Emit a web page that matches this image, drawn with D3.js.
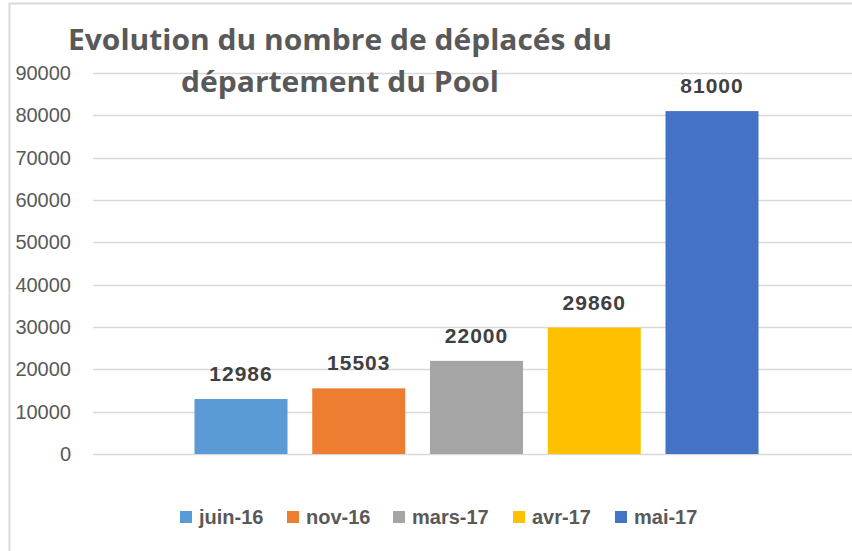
<!DOCTYPE html>
<html>
<head>
<meta charset="utf-8">
<script src="https://cdn.jsdelivr.net/npm/d3@7"></script>
<style>
  body { margin: 0; background: #fff; }
  svg { display: block; }
</style>
</head>
<body>
<div id="chart"></div>
<script>
// Data
const periods = ['juin-16', 'nov-16', 'mars-17', 'avr-17', 'mai-17'];
const displaced = [12986, 15503, 22000, 29860, 81000];
const barColors = ['#5B9BD5', '#ED7D31', '#A5A5A5', '#FFC000', '#4472C4'];
const yTicks = [0, 10000, 20000, 30000, 40000, 50000, 60000, 70000, 80000, 90000];
const titleLines = ['Evolution du nombre de déplacés du', 'département du Pool'];

const W = 852, H = 551;
const svg = d3.select('#chart').append('svg')
    .attr('width', W)
    .attr('height', H);

// chart frame
svg.append('rect')
    .attr('x', 9.5).attr('y', 3.5)
    .attr('width', 900).attr('height', 600)
    .attr('fill', '#fff')
    .attr('stroke', '#d9d9d9')
    .attr('stroke-width', 2);

const plotLeft = 93, plotRight = 860;

const y = d3.scaleLinear()
    .domain([0, 90000])
    .range([454, 73]);

const x = d3.scaleBand()
    .domain(periods)
    .range([plotLeft, plotRight])
    .paddingInner(0.21)
    .paddingOuter(0.862);

// gridlines
svg.append('g')
    .selectAll('line')
    .data(yTicks)
    .join('line')
    .attr('x1', plotLeft).attr('x2', W)
    .attr('y1', d => Math.round(y(d)) + 0.5)
    .attr('y2', d => Math.round(y(d)) + 0.5)
    .attr('stroke', '#d9d9d9')
    .attr('stroke-width', 1.5);

// y axis labels
const yAxis = svg.append('g')
    .attr('transform', 'translate(71,0)')
    .call(d3.axisLeft(y).tickValues(yTicks).tickSize(0).tickPadding(0).tickFormat(d3.format('d')));
yAxis.select('.domain').remove();
yAxis.selectAll('text')
    .attr('fill', '#595959')
    .style('font-family', 'Liberation Sans, Arial, sans-serif')
    .style('font-size', '20px');

// bars
svg.append('g')
    .selectAll('rect')
    .data(periods)
    .join('rect')
    .attr('x', d => x(d))
    .attr('width', x.bandwidth())
    .attr('y', (d, i) => y(displaced[i]))
    .attr('height', (d, i) => y(0) - y(displaced[i]))
    .attr('fill', (d, i) => barColors[i]);

// data labels
svg.append('g')
    .selectAll('text')
    .data(periods)
    .join('text')
    .attr('x', d => x(d) + x.bandwidth() / 2)
    .attr('y', (d, i) => y(displaced[i]) - 18)
    .attr('text-anchor', 'middle')
    .attr('fill', '#404040')
    .style('font-family', 'Liberation Sans, Arial, sans-serif')
    .style('font-weight', 'bold')
    .style('font-size', '21px')
    .style('letter-spacing', '1px')
    .text((d, i) => displaced[i]);

// title
svg.append('g')
    .selectAll('text')
    .data(titleLines)
    .join('text')
    .attr('x', 340)
    .attr('y', (d, i) => 50 + i * 42)
    .attr('text-anchor', 'middle')
    .attr('fill', '#595959')
    .attr('textLength', (d, i) => i === 0 ? 544 : 318)
    .attr('lengthAdjust', 'spacingAndGlyphs')
    .style('font-family', 'Open Sans, Liberation Sans, sans-serif')
    .style('font-weight', 'bold')
    .style('font-size', '29px')
    .text(d => d);

// legend
const legendX = [180, 287, 393, 513, 615];
const legend = svg.append('g');
periods.forEach((p, i) => {
    const row = legend.append('g')
        .attr('transform', `translate(${legendX[i]}, 511)`);
    row.append('rect')
        .attr('width', 12)
        .attr('height', 12)
        .attr('fill', barColors[i]);
    row.append('text')
        .attr('x', 19)
        .attr('y', 13)
        .attr('fill', '#595959')
        .style('font-family', 'Liberation Sans, Arial, sans-serif')
        .style('font-weight', 'bold')
        .style('font-size', '20px')
        .text(p);
});
</script>
</body>
</html>
